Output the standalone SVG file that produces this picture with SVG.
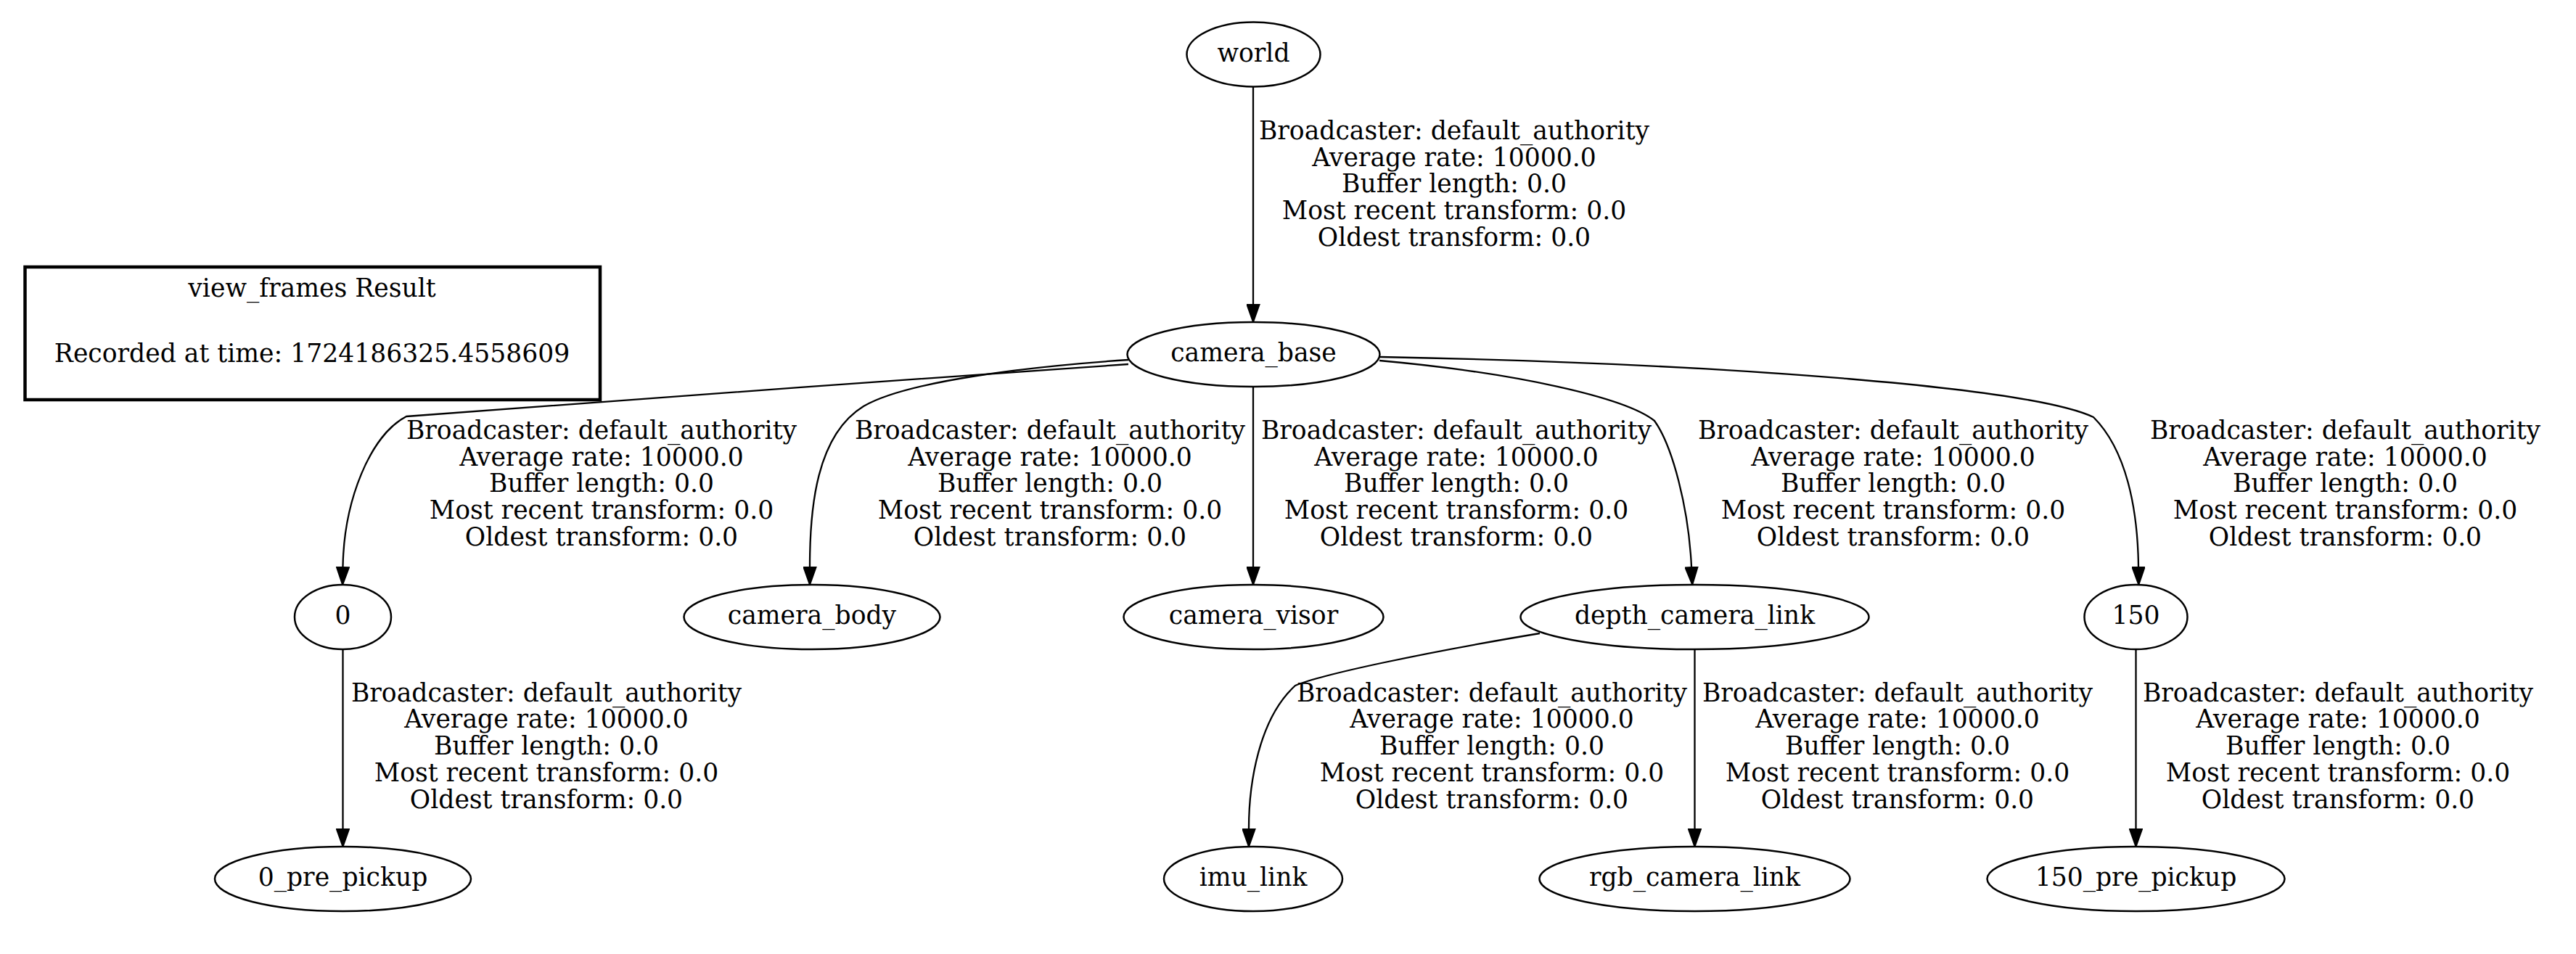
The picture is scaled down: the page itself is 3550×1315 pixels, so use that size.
<svg xmlns="http://www.w3.org/2000/svg" width="3550" height="1315" viewBox="0 0 3550 1315">
<style>
text { font-family: "DejaVu Serif", "Liberation Serif", serif; font-size: 34.6px; fill: #000; text-anchor: middle; }
.node ellipse { fill: none; stroke: #000; stroke-width: 2.5; }
.edge path { fill: none; stroke: #000; stroke-width: 2.3; marker-end: url(#arrow); }
.legend rect { fill: none; stroke: #000; stroke-width: 4.5; }
</style>
<defs>
<marker id="arrow" viewBox="0 0 26 19" refX="0" refY="9.5" markerWidth="26" markerHeight="19" markerUnits="userSpaceOnUse" orient="auto">
<path d="M1,1 L25,9.5 L1,18 Z" fill="#000" stroke="#000" stroke-width="2"/>
</marker>
</defs>
<rect width="3550" height="1315" fill="#fff"/>

<g id="legend" class="legend">
<rect x="34.5" y="368" width="792.5" height="183"/>
<text x="430" y="409">view_frames Result</text>
<text x="430" y="499">Recorded at time: 1724186325.4558609</text>
</g>

<g id="connectors">
<g class="edge" id="e_world_camera_base">
<path d="M1727,119.5 L1727,419"/>
<text x="2004" y="192">Broadcaster: default_authority</text>
<text x="2004" y="228.7">Average rate: 10000.0</text>
<text x="2004" y="265.4">Buffer length: 0.0</text>
<text x="2004" y="302.1">Most recent transform: 0.0</text>
<text x="2004" y="338.8">Oldest transform: 0.0</text>
</g>
<g class="edge" id="e_camera_base_0">
<path d="M1555,502 C1300,520 640,566 560,574 C510,600 474,690 472.5,781"/>
<text x="829" y="605">Broadcaster: default_authority</text>
<text x="829" y="641.7">Average rate: 10000.0</text>
<text x="829" y="678.4">Buffer length: 0.0</text>
<text x="829" y="715.1">Most recent transform: 0.0</text>
<text x="829" y="751.8">Oldest transform: 0.0</text>
</g>
<g class="edge" id="e_camera_base_camera_body">
<path d="M1555,496 C1420,505 1250,525 1190,560 C1125,600 1116,700 1116,781"/>
<text x="1447" y="605">Broadcaster: default_authority</text>
<text x="1447" y="641.7">Average rate: 10000.0</text>
<text x="1447" y="678.4">Buffer length: 0.0</text>
<text x="1447" y="715.1">Most recent transform: 0.0</text>
<text x="1447" y="751.8">Oldest transform: 0.0</text>
</g>
<g class="edge" id="e_camera_base_camera_visor">
<path d="M1727,533 L1727,781"/>
<text x="2007" y="605">Broadcaster: default_authority</text>
<text x="2007" y="641.7">Average rate: 10000.0</text>
<text x="2007" y="678.4">Buffer length: 0.0</text>
<text x="2007" y="715.1">Most recent transform: 0.0</text>
<text x="2007" y="751.8">Oldest transform: 0.0</text>
</g>
<g class="edge" id="e_camera_base_depth_camera_link">
<path d="M1901,497 C2090,514 2240,548 2280,580 C2305,615 2327,700 2331,781"/>
<text x="2609" y="605">Broadcaster: default_authority</text>
<text x="2609" y="641.7">Average rate: 10000.0</text>
<text x="2609" y="678.4">Buffer length: 0.0</text>
<text x="2609" y="715.1">Most recent transform: 0.0</text>
<text x="2609" y="751.8">Oldest transform: 0.0</text>
</g>
<g class="edge" id="e_camera_base_150">
<path d="M1902,492 C2400,502 2800,535 2885,575 C2930,620 2946,700 2947,781"/>
<text x="3232" y="605">Broadcaster: default_authority</text>
<text x="3232" y="641.7">Average rate: 10000.0</text>
<text x="3232" y="678.4">Buffer length: 0.0</text>
<text x="3232" y="715.1">Most recent transform: 0.0</text>
<text x="3232" y="751.8">Oldest transform: 0.0</text>
</g>
<g class="edge" id="e_0_0_pre_pickup">
<path d="M472.5,895 L472.5,1142"/>
<text x="753" y="966.7">Broadcaster: default_authority</text>
<text x="753" y="1003.4">Average rate: 10000.0</text>
<text x="753" y="1040.1">Buffer length: 0.0</text>
<text x="753" y="1076.8">Most recent transform: 0.0</text>
<text x="753" y="1113.5">Oldest transform: 0.0</text>
</g>
<g class="edge" id="e_depth_camera_link_imu_link">
<path d="M2122,873 C1960,900 1820,930 1785,945 C1735,990 1721,1080 1721,1142"/>
<text x="2056" y="966.7">Broadcaster: default_authority</text>
<text x="2056" y="1003.4">Average rate: 10000.0</text>
<text x="2056" y="1040.1">Buffer length: 0.0</text>
<text x="2056" y="1076.8">Most recent transform: 0.0</text>
<text x="2056" y="1113.5">Oldest transform: 0.0</text>
</g>
<g class="edge" id="e_depth_camera_link_rgb_camera_link">
<path d="M2335.5,895 L2335.5,1142"/>
<text x="2615" y="966.7">Broadcaster: default_authority</text>
<text x="2615" y="1003.4">Average rate: 10000.0</text>
<text x="2615" y="1040.1">Buffer length: 0.0</text>
<text x="2615" y="1076.8">Most recent transform: 0.0</text>
<text x="2615" y="1113.5">Oldest transform: 0.0</text>
</g>
<g class="edge" id="e_150_150_pre_pickup">
<path d="M2943.5,895 L2943.5,1142"/>
<text x="3222" y="966.7">Broadcaster: default_authority</text>
<text x="3222" y="1003.4">Average rate: 10000.0</text>
<text x="3222" y="1040.1">Buffer length: 0.0</text>
<text x="3222" y="1076.8">Most recent transform: 0.0</text>
<text x="3222" y="1113.5">Oldest transform: 0.0</text>
</g>
</g>

<g id="world" class="node"><ellipse cx="1727.5" cy="75" rx="92" ry="44.5"/><text x="1727.5" y="84.7">world</text></g>
<g id="camera_base" class="node"><ellipse cx="1727.5" cy="488.5" rx="174" ry="44.5"/><text x="1727.5" y="498.2">camera_base</text></g>
<g id="n0" class="node"><ellipse cx="472.5" cy="850.5" rx="66.5" ry="44.5"/><text x="472.5" y="860.2">0</text></g>
<g id="camera_body" class="node"><ellipse cx="1119" cy="850.5" rx="176.5" ry="44.5"/><text x="1119" y="860.2">camera_body</text></g>
<g id="camera_visor" class="node"><ellipse cx="1727.5" cy="850.5" rx="179" ry="44.5"/><text x="1727.5" y="860.2">camera_visor</text></g>
<g id="depth_camera_link" class="node"><ellipse cx="2335.5" cy="850.5" rx="240" ry="44.5"/><text x="2335.5" y="860.2">depth_camera_link</text></g>
<g id="n150" class="node"><ellipse cx="2943.5" cy="850.5" rx="71" ry="44.5"/><text x="2943.5" y="860.2">150</text></g>
<g id="n0_pre_pickup" class="node"><ellipse cx="472.5" cy="1211.5" rx="176.5" ry="44.5"/><text x="472.5" y="1221.2">0_pre_pickup</text></g>
<g id="imu_link" class="node"><ellipse cx="1727" cy="1211.5" rx="123" ry="44.5"/><text x="1727" y="1221.2">imu_link</text></g>
<g id="rgb_camera_link" class="node"><ellipse cx="2335.5" cy="1211.5" rx="214" ry="44.5"/><text x="2335.5" y="1221.2">rgb_camera_link</text></g>
<g id="n150_pre_pickup" class="node"><ellipse cx="2943.5" cy="1211.5" rx="205" ry="44.5"/><text x="2943.5" y="1221.2">150_pre_pickup</text></g>
</svg>
